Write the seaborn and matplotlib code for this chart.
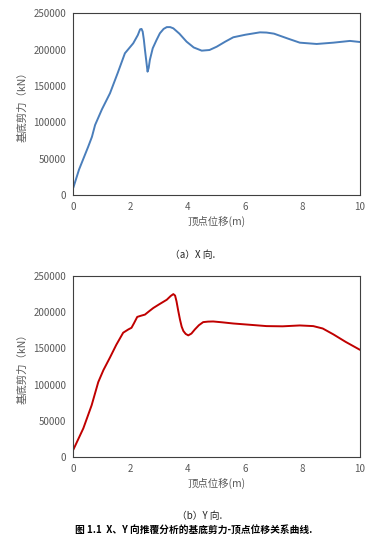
import numpy as np
import pandas as pd
import matplotlib
matplotlib.use("Agg")
import matplotlib.pyplot as plt
import seaborn as sns

# X direction pushover curve
x_disp = [0, 0.2, 0.52, 0.65, 0.76, 1.0, 1.28, 1.55, 1.80, 2.09, 2.25, 2.33, 2.38, 2.42, 2.46, 2.5, 2.55, 2.59,
          2.63, 2.67, 2.77, 2.9, 3.02, 3.15, 3.26, 3.38, 3.49, 3.7, 3.95, 4.2, 4.48, 4.75, 5.0, 5.3,
          5.58, 6.0, 6.51, 6.74, 7.0, 7.5, 7.9, 8.49, 9.07, 9.65, 10.0]
x_shear = [10000, 35000, 66500, 80000, 96300, 118000, 140000, 168000, 195000, 208700, 220000, 228000, 228500,
           224800, 214000, 199500, 183000, 169700, 175000, 185800, 201800, 213000, 222500, 228500, 231000,
           231000, 229300, 222000, 211000, 203000, 198600, 199500, 204000, 211000, 217000, 220500, 223800,
           223500, 222000, 215000, 209600, 207800, 209600, 212000, 210500]

# Y direction pushover curve
y_disp = [0, 0.35, 0.64, 0.87, 1.05, 1.28, 1.5, 1.74, 1.92, 2.03, 2.12, 2.23, 2.35, 2.5, 2.65, 2.79, 3.0, 3.26,
          3.4, 3.49, 3.55, 3.6, 3.66, 3.72, 3.78, 3.84, 3.92, 4.01, 4.12, 4.24, 4.38, 4.53, 4.7, 4.88, 5.2,
          5.58, 6.2, 6.74, 7.3, 7.9, 8.37, 8.7, 9.07, 9.5, 10.0]
y_shear = [10000, 39600, 71500, 103400, 120000, 137500, 155000, 171700, 176200, 178500, 185000, 193500, 195000,
           196700, 201500, 205800, 211000, 217200, 222500, 225000, 223000, 215000, 202000, 190000, 180000, 174000,
           170000, 168000, 170500, 176200, 182000, 186300, 187000, 187200, 186000, 184400, 182500, 180800, 180500,
           181700, 180800, 177500, 169400, 159000, 148000]

xticks = [0, 2, 4, 6, 8, 10]
yticks = [0, 50000, 100000, 150000, 200000, 250000]

sns.set_style("white")
plt.rcParams['font.family'] = ['Noto Sans CJK SC', 'DejaVu Sans']

W, H = 371, 544
fig = plt.figure(figsize=(W / 100, H / 100), dpi=100)

gray = "#595959"


def panel(top, bottom, xs, ys, color):
    ax = fig.add_axes([73.3 / W, 1 - bottom / H, (360 - 73.3) / W, (bottom - top) / H])
    df = pd.DataFrame({"d": xs, "v": ys})
    sns.lineplot(data=df, x="d", y="v", ax=ax, color=color, linewidth=1.4, sort=False)
    ax.set_xlim(0, 10)
    ax.set_ylim(0, 250000)
    ax.set_xticks(xticks)
    ax.set_yticks(yticks)
    ax.set_yticklabels([str(t) for t in yticks])
    ax.tick_params(axis="x", direction="in", length=3, width=0.8, color="#404040",
                   labelsize=7, labelcolor=gray, pad=5)
    ax.tick_params(axis="y", length=0, labelsize=7, labelcolor=gray, pad=5)
    for s in ax.spines.values():
        s.set_color("#404040")
        s.set_linewidth(0.8)
    ax.set_xlabel("顶点位移(m)", fontsize=7.5, color=gray, labelpad=3)
    ax.set_ylabel("基底剪力（kN）", fontsize=7.5, color=gray, labelpad=4)
    return ax


panel(13.3, 195, x_disp, x_shear, "#4a7ebb")
panel(276, 457, y_disp, y_shear, "#c00000")

fig.text(193 / W, 1 - 255 / H, "（a）X 向.", ha="center", va="center", fontsize=7, color="#222222")
fig.text(200 / W, 1 - 516 / H, "（b）Y 向.", ha="center", va="center", fontsize=7, color="#222222")
fig.text(194 / W, 1 - 531 / H, "图 1.1  X、Y 向推覆分析的基底剪力-顶点位移关系曲线.", ha="center", va="center",
         fontsize=7, color="black", fontweight="bold")

fig.savefig("out.png", dpi=100)
